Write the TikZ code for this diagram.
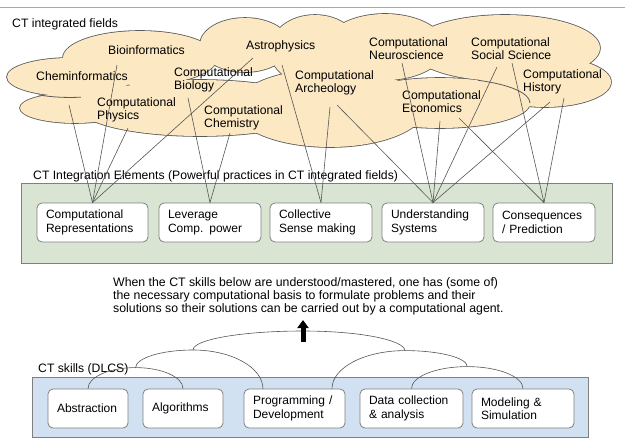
\documentclass[tikz,border=0pt]{standalone}
\usepackage{fontspec}
\setmainfont{Liberation Sans}
\usetikzlibrary{arrows.meta}
\hyphenpenalty=10000
\exhyphenpenalty=10000
\definecolor{cloudfill}{HTML}{FCE8C2}
\definecolor{cloudline}{HTML}{5A5A5A}
\definecolor{greenbg}{HTML}{D9E5D2}
\definecolor{bluebg}{HTML}{D2E1F1}
\definecolor{boxline}{HTML}{7F7F7F}
\definecolor{linkcol}{HTML}{555555}
\definecolor{rulecol}{HTML}{A8A8A8}
\begin{document}
\begin{tikzpicture}[x=1pt,y=-1pt,font=\fontsize{12.2}{13.3}\selectfont,
  lbl/.style={anchor=north west,inner sep=0pt,align=left},
  elem/.style={draw=boxline,fill=white,rounded corners=5pt,line width=0.8pt,
    minimum height=39pt,inner xsep=9pt,inner ysep=0pt,align=left,
    font=\fontsize{12}{13.3}\selectfont},
  link/.style={draw=linkcol,line width=0.6pt},
  container/.style={draw=boxline,line width=0.8pt}]
\useasboundingbox (0,0) rectangle (625,439);
\draw[rulecol,line width=0.8pt] (0,7) -- (625,7);
% ---- clouds
\foreach \cx/\cy/\rx/\ry in {70/77/63/19,140/58/77/27,75/108/55/15,245/45/45/27,315/50/45/35,
  200/108/120/28,330/108/95/39,385/47/60/33,505/48/95/33,545/82/66/25,440/103/90/25}
  {\draw[cloudline,fill=cloudfill,line width=1.6pt] (\cx,\cy) ellipse [x radius=\rx pt,y radius=\ry pt];}
\foreach \cx/\cy/\rx/\ry in {70/77/63/19,140/58/77/27,75/108/55/15,245/45/45/27,315/50/45/35,
  200/108/120/28,330/108/95/39,385/47/60/33,505/48/95/33,545/82/66/25,440/103/90/25}
  {\fill[cloudfill] (\cx,\cy) ellipse [x radius=\rx pt,y radius=\ry pt];}
\draw[cloudline,line width=0.8pt] (478.0,80.3) arc[start angle=65,end angle=0,x radius=90pt,y radius=25pt];
\draw[cloudline,line width=0.8pt] (38.5,94.9) arc[start angle=240,end angle=280,x radius=63pt,y radius=19pt];
% ---- field labels
\node[lbl] (tfields) at (12,18) {CT integrated fields};
\node[lbl] (bio) at (108,45.5) {Bioinformatics};
\node[lbl] (chem) at (36,71.5) {Cheminformatics};
\node[lbl] (astro) at (246,40.5) {Astrophysics};
\node[lbl] (cbio) at (174,67.5) {Computational\\Biology};
\node[lbl] (cphys) at (97,97) {Computational\\Physics};
\node[lbl] (cchem) at (204,105.5) {Computational\\Chemistry};
\node[lbl] (carch) at (295,70.5) {Computational\\Archeology};
\node[lbl] (cneuro) at (369,37) {Computational\\Neuroscience};
\node[lbl] (csoc) at (471,37) {Computational\\Social Science};
\node[lbl] (chist) at (523,69) {Computational\\History};
\node[lbl] (cecon) at (402,90.5) {Computational\\Economics};
% ---- integration elements
\draw[container,fill=greenbg] (21,183) rectangle (612,263);
\node[lbl] (ielab) at (33,170.5) {CT Integration Elements (Powerful practices in CT integrated fields)};
\coordinate (s1) at (69,105);
\coordinate (s2) at (117,65);
\coordinate (s3) at (128,128);
\coordinate (s4) at (253,58);
\coordinate (s5) at (188,98);
\coordinate (s6) at (230,133);
\coordinate (s7) at (282,65);
\coordinate (s8) at (330,107);
\coordinate (s9) at (337,105);
\coordinate (s10) at (402,63);
\coordinate (s11) at (440,121);
\coordinate (s12) at (497,67);
\coordinate (s13) at (550,102);
\coordinate (s14) at (459,118);
\coordinate (s15) at (512,63);
\coordinate (s16) at (564,98);
\node[elem,minimum width=111pt,text width=93pt] (rep) at (92.5,222.5) {Computational\\Representations};
\node[elem,minimum width=102pt,text width=84pt] (lev) at (210,222.5) {Leverage\\Comp. power};
\node[elem,minimum width=102pt,text width=84pt] (col) at (321,222.5) {Collective\\Sense making};
\node[elem,minimum width=102pt,text width=84pt] (und) at (433,222.5) {Understanding\\Systems};
\node[elem,minimum width=102pt,text width=84pt] (con) at (544,222.5) {Consequences\\/ Prediction};
\foreach \s in {s1,s2,s3,s4} \draw[link] (\s) -- (rep.north);
\foreach \s in {s5,s6} \draw[link] (\s) -- (lev.north);
\foreach \s in {s7,s8} \draw[link] (\s) -- (col.north);
\foreach \s in {s9,s10,s11,s12,s13} \draw[link] (\s) -- (und.north);
\foreach \s in {s14,s15,s16} \draw[link] (\s) -- (con.north);
% ---- statement and arrow
\node[lbl,font=\fontsize{12.3}{13}\selectfont] (para) at (113,277.5) {When the CT skills below are understood/mastered, one has (some of)\\the necessary computational basis to formulate problems and their\\solutions so their solutions can be carried out by a computational agent.};
\coordinate (arrB) at (303,342);
\coordinate (arrT) at (303,320);
% ---- CT skills
\draw[container,fill=bluebg] (32,377) rectangle (588,437);
\node[lbl] (sklab) at (38,363.5) {CT skills (DLCS)};
\node[elem,minimum width=80pt,text width=62pt] (abs) at (88,408.5) {Abstraction};
\node[elem,minimum width=80pt,text width=62pt] (alg) at (183,408.5) {Algorithms};
\node[elem,minimum width=101pt,text width=83pt] (prog) at (294.5,408.5) {Programming /\\Development};
\node[elem,minimum width=103pt,text width=85pt] (data) at (411.5,408.5) {Data collection\\\& analysis};
\node[elem,minimum width=102pt,text width=84pt] (model) at (523,408.5) {Modeling \&\\Simulation};
\draw[link] (abs.north) arc[start angle=180,end angle=0,x radius=47.5pt,y radius=21pt];
\draw[link] (data.north) arc[start angle=180,end angle=0,x radius=55.75pt,y radius=22pt];
\draw[link] (135.5,368) arc[start angle=180,end angle=90,x radius=57.5pt,y radius=18pt]
  arc[start angle=90,end angle=0,x radius=70pt,y radius=39pt];
\draw[link] ([xshift=37.5pt]prog.north) arc[start angle=180,end angle=90,x radius=73pt,y radius=38pt]
  arc[start angle=90,end angle=0,x radius=62.25pt,y radius=16pt];
\draw[link] (193,350) arc[start angle=180,end angle=90,x radius=110pt,y radius=19pt]
  arc[start angle=90,end angle=0,x radius=102pt,y radius=20pt];
\draw[black,line width=5pt,-{Triangle[length=8pt,width=11pt]}] (arrB) -- (arrT);
\end{tikzpicture}
\end{document}
